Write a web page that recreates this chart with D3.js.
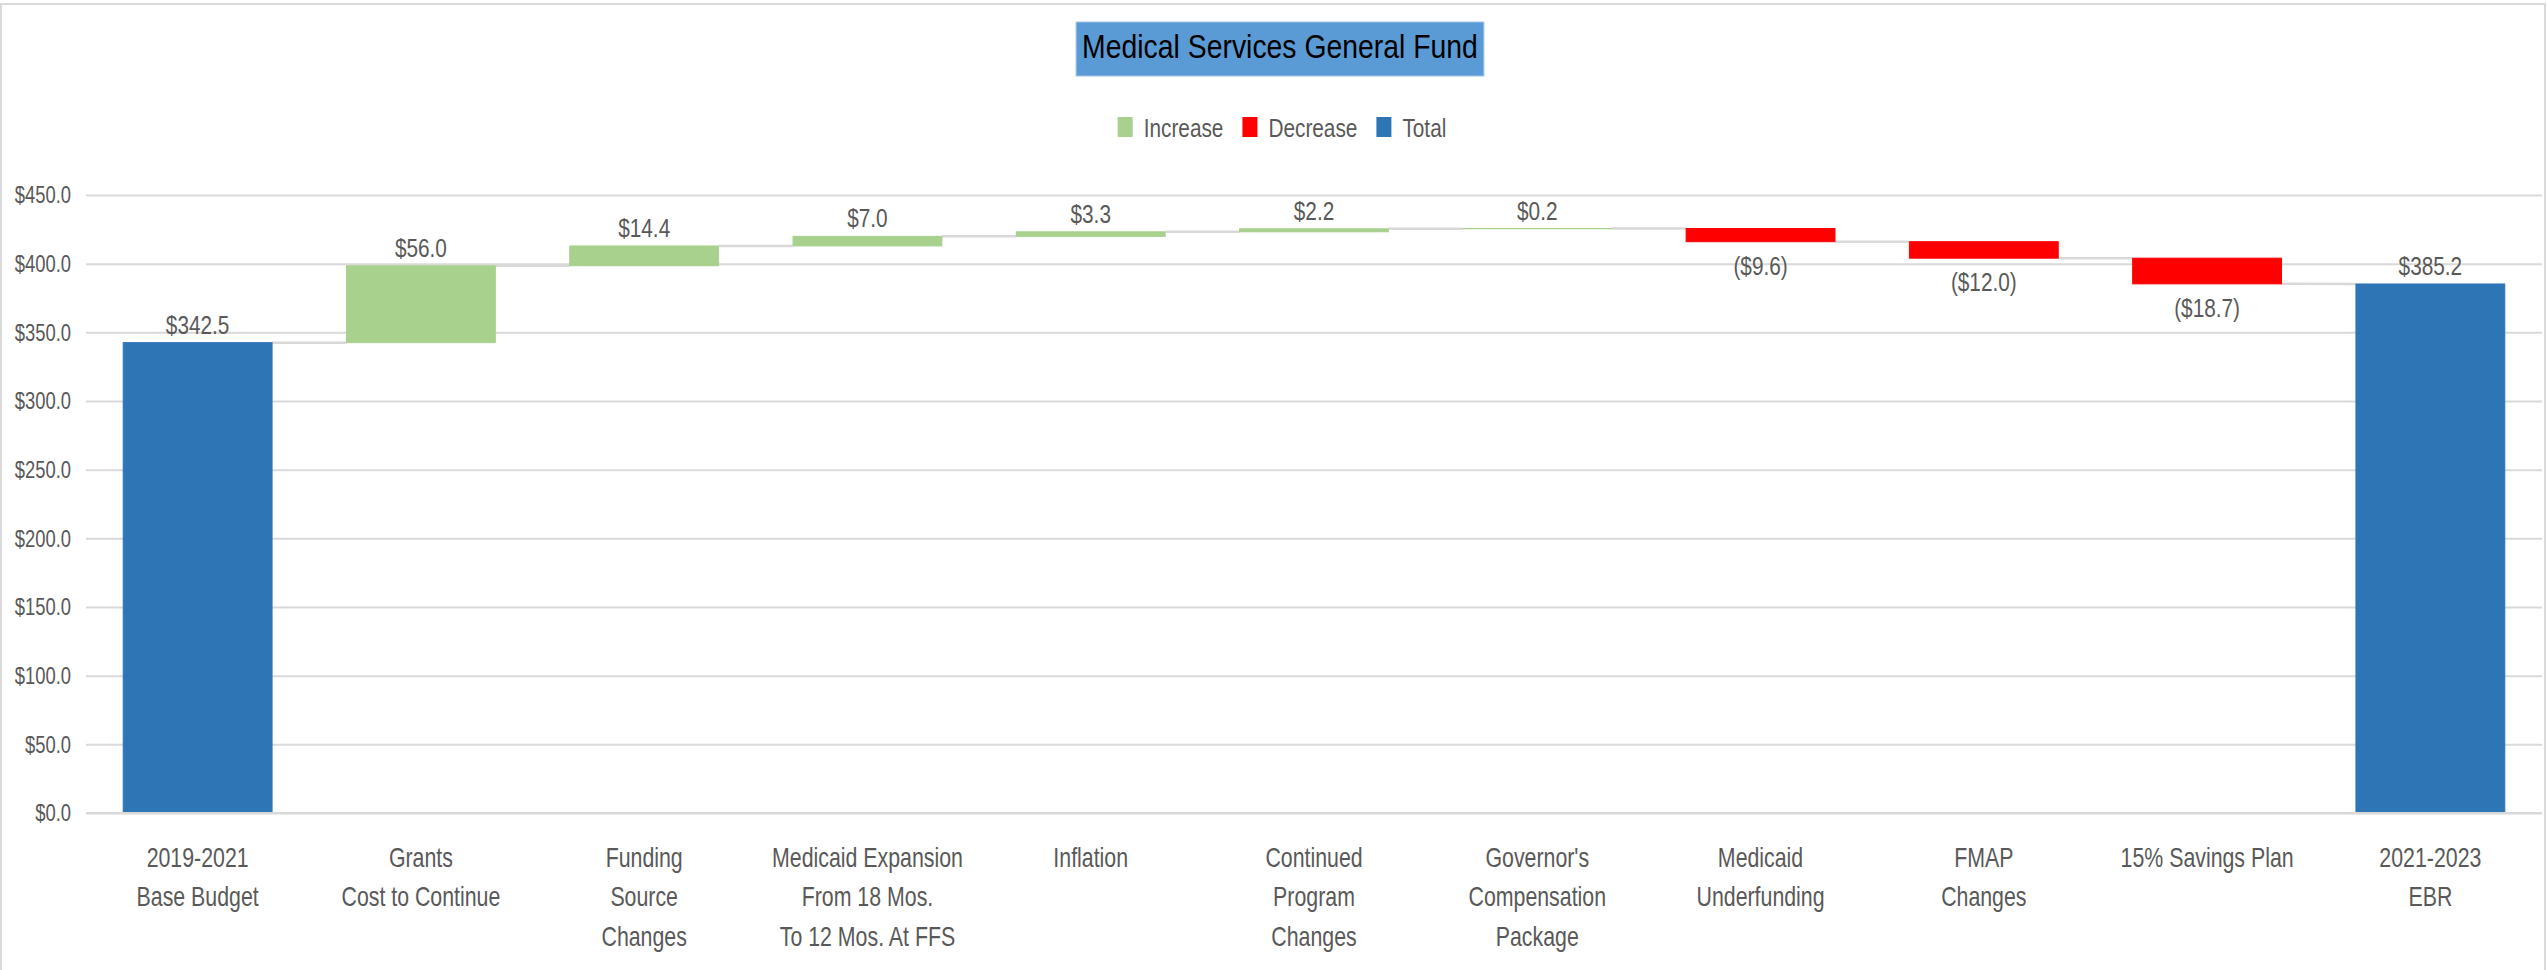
<!DOCTYPE html>
<html>
<head>
<meta charset="utf-8">
<script src="https://cdnjs.cloudflare.com/ajax/libs/d3/7.8.5/d3.min.js"></script>
<style>
  body { margin: 0; background: #fff; }
  text { font-family: "Liberation Sans", Arial, sans-serif; }
</style>
</head>
<body>
<div id="chart"></div>
<script>
var chart_title = "Medical Services General Fund";
var categories = [
    ["2019-2021", "Base Budget"],
    ["Grants", "Cost to Continue"],
    ["Funding", "Source", "Changes"],
    ["Medicaid Expansion", "From 18 Mos.", "To 12 Mos. At FFS"],
    ["Inflation"],
    ["Continued", "Program", "Changes"],
    ["Governor's", "Compensation", "Package"],
    ["Medicaid", "Underfunding"],
    ["FMAP", "Changes"],
    ["15% Savings Plan"],
    ["2021-2023", "EBR"]
];
var values = [342.5, 56.0, 14.4, 7.0, 3.3, 2.2, 0.2, -9.6, -12.0, -18.7, 385.2];
var kinds = ["total", "increase", "increase", "increase", "increase", "increase",
             "increase", "decrease", "decrease", "decrease", "total"];
var y_ticks = [0, 50, 100, 150, 200, 250, 300, 350, 400, 450];
var legend_labels = ["Increase", "Decrease", "Total"];
var legend_kinds = ["increase", "decrease", "total"];

var colors = {increase: "#A9D18E", decrease: "#FF0000", total: "#2E75B6"};
var text_color = "#595959";
var grid_color = "#D9D9D9";
var squeeze = 0.8;   // narrow look of the original font

var width = 2547, height = 970;
var plot_left = 86, plot_right = 2542, plot_top = 195, plot_bottom = 813;

var svg = d3.select("#chart").append("svg")
        .attr("width", width)
        .attr("height", height);

// text drawn narrow: anchor at (x, y), squeezed horizontally
function narrowText(parent, x, y, sx) {
    return parent.append("text")
            .attr("transform", "translate(" + x + "," + y + ") scale(" + sx + ",1)");
}

// chart frame
svg.append("rect")
        .attr("x", 1)
        .attr("y", 4)
        .attr("width", width - 3)
        .attr("height", height + 10)
        .attr("fill", "none")
        .attr("stroke", grid_color)
        .attr("stroke-width", 2);

// running totals -> start / end of each bar
var steps = [];
var running = 0;
for (var i = 0; i < values.length; i++) {
    var s, e;
    if (kinds[i] == "total") {
        s = 0;
        e = values[i];
        running = values[i];
    } else {
        s = running;
        e = running + values[i];
        running = e;
    }
    steps.push({i: i, kind: kinds[i], value: values[i], start: s, end: e});
}

var x = d3.scaleBand()
        .domain(d3.range(categories.length))
        .range([plot_left, plot_right])
        .paddingInner(1 / 3)
        .paddingOuter(1 / 6);

var y = d3.scaleLinear()
        .domain([0, 450])
        .range([plot_bottom, plot_top]);

// y axis + gridlines
var yAxis = svg.append("g")
        .attr("transform", "translate(" + plot_left + ",0)")
        .call(d3.axisLeft(y)
            .tickValues(y_ticks)
            .tickSize(-(plot_right - plot_left))
            .tickPadding(15)
            .tickFormat(function(d) { return "$" + d3.format(".1f")(d); }));
yAxis.select(".domain").remove();
yAxis.selectAll(".tick line")
        .attr("stroke", grid_color)
        .attr("stroke-width", 2);
yAxis.selectAll(".tick text")
        .attr("fill", text_color)
        .attr("font-size", "23px")
        .attr("font-family", null)
        .attr("x", -15 / squeeze)
        .attr("transform", "scale(" + squeeze + ",1)")
        .attr("dy", "0.34em");

// connectors
for (var i = 0; i < steps.length - 1; i++) {
    var nxt = steps[i + 1];
    var level2 = nxt.kind == "total" ? nxt.end : nxt.start;
    svg.append("line")
            .attr("x1", x(i) + x.bandwidth())
            .attr("y1", y(steps[i].end))
            .attr("x2", x(i + 1))
            .attr("y2", y(level2))
            .attr("stroke", grid_color)
            .attr("stroke-width", 2.5);
}

// bars
svg.selectAll("rect.bar")
        .data(steps)
        .enter().append("rect")
        .attr("class", "bar")
        .attr("x", function(d) { return x(d.i); })
        .attr("y", function(d) { return y(Math.max(d.start, d.end)); })
        .attr("width", x.bandwidth())
        .attr("height", function(d) { return Math.abs(y(d.start) - y(d.end)); })
        .attr("fill", function(d) { return colors[d.kind]; })
        .attr("stroke", function(d) { return colors[d.kind]; })
        .attr("stroke-width", 1);

// data labels
steps.forEach(function(d) {
    var ly = d.value < 0 ? y(d.end) + 33 : y(Math.max(d.start, d.end)) - 9;
    var t = "$" + d3.format(".1f")(Math.abs(d.value));
    narrowText(svg, x(d.i) + x.bandwidth() / 2, ly, squeeze)
            .attr("text-anchor", "middle")
            .attr("font-size", "26px")
            .attr("fill", text_color)
            .text(d.value < 0 ? "(" + t + ")" : t);
});

// x axis line
svg.append("line")
        .attr("x1", plot_left)
        .attr("x2", plot_right)
        .attr("y1", plot_bottom)
        .attr("y2", plot_bottom)
        .attr("stroke", grid_color)
        .attr("stroke-width", 2);

// category labels
for (var i = 0; i < categories.length; i++) {
    var t = narrowText(svg, x(i) + x.bandwidth() / 2, 0, 0.79)
            .attr("text-anchor", "middle")
            .attr("font-size", "27px")
            .attr("fill", text_color);
    for (var j = 0; j < categories[i].length; j++) {
        t.append("tspan")
                .attr("x", 0)
                .attr("y", plot_bottom + 54 + j * 39.5)
                .text(categories[i][j]);
    }
}

// title
var cx = 1280;
var title_bg = svg.append("rect");
var title = narrowText(svg, cx, 58, 0.86)
        .attr("text-anchor", "middle")
        .attr("font-size", "33px")
        .attr("fill", "#000")
        .text(chart_title);
var tw = title.node().getComputedTextLength() * 0.86;
title_bg.attr("x", cx - tw / 2 - 6)
        .attr("y", 22)
        .attr("width", tw + 12)
        .attr("height", 54)
        .attr("fill", "#5B9BD5")
        .attr("stroke", "#9DC3E6")
        .attr("stroke-width", 1);

// legend
var legend = svg.append("g");
var lx = 0;
for (var i = 0; i < legend_labels.length; i++) {
    legend.append("rect")
            .attr("x", lx)
            .attr("y", 117)
            .attr("width", 15)
            .attr("height", 20)
            .attr("fill", colors[legend_kinds[i]]);
    var lt = narrowText(legend, lx + 26, 137, squeeze)
            .attr("font-size", "26px")
            .attr("fill", text_color)
            .text(legend_labels[i]);
    lx = lx + 26 + lt.node().getComputedTextLength() * squeeze + 19;
}
var lw = lx - 19;
legend.attr("transform", "translate(" + (cx + 2 - lw / 2) + ",0)");
</script>
</body>
</html>
